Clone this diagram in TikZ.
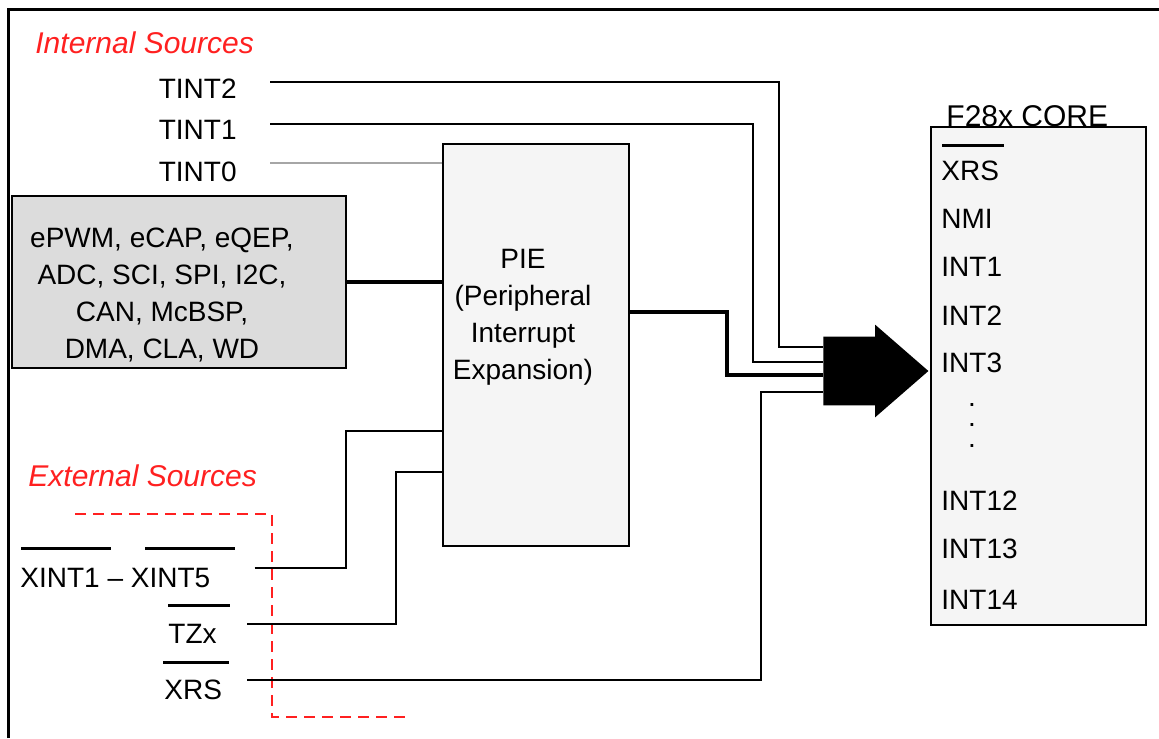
\documentclass[tikz,border=0pt]{standalone}
\usepackage{fontspec}
\setmainfont{Liberation Sans}
\usetikzlibrary{shapes.arrows}
\definecolor{boxgray}{HTML}{DCDCDC}
\definecolor{piegray}{HTML}{F5F5F5}
\definecolor{srcred}{HTML}{FF2020}
\begin{document}
\begin{tikzpicture}[x=0.5pt,y=-0.5pt,
    lbl/.style={inner sep=0pt,font=\fontsize{14}{18.5}\selectfont},
    src/.style={lbl,text=srcred,font=\fontsize{15}{18.5}\selectfont\itshape},
    box/.style={draw,line width=1pt,inner sep=0pt},
    wire/.style={line width=1.1pt},
    bus/.style={line width=2pt},
    bar/.style={line width=1.5pt},
    bigarrow/.style={single arrow,fill=black,inner xsep=0pt,inner ysep=17pt,minimum height=52.5pt,single arrow head extend=6pt,single arrow tip angle=82}
]
\useasboundingbox (0,0) rectangle (1159,738);
\draw[line width=1.5pt] (8,738) -- (8,10) -- (1159,10);

% internal side
\node[src,anchor=west] (intsrc) at (35,43) {Internal Sources};
\node[lbl,anchor=east] (tint2) at (237,89) {TINT2};
\node[lbl,anchor=east] (tint1) at (237,130) {TINT1};
\node[lbl,anchor=east] (tint0) at (237,172) {TINT0};
\node[box,fill=boxgray,minimum width=167pt,minimum height=86pt] (periph) at (179,282) {};
\node[lbl,align=center] (periphtxt) at (162,295) {ePWM, eCAP, eQEP,\\ADC, SCI, SPI, I2C,\\CAN, McBSP,\\DMA, CLA, WD};
\node[box,fill=piegray,minimum width=93pt,minimum height=201pt] (pie) at (536,345) {};
\node[lbl,align=center] (pietxt) at (523,317) {PIE\\(Peripheral\\Interrupt\\Expansion)};

% external side
\node[src,anchor=west] (extsrc) at (28,476) {External Sources};
\node[lbl,anchor=west] (xint) at (20,578) {XINT1 -- XINT5};
\node[lbl,anchor=west] (tzx) at (168,634) {TZx};
\node[lbl,anchor=west] (xrsin) at (164,690) {XRS};
\draw[bar] (21,548) -- (111,548);
\draw[bar] (145,548) -- (235,548);
\draw[bar] (168,605) -- (230,605);
\draw[bar] (163,662) -- (229,662);
\draw[srcred,line width=0.75pt,dash pattern=on 5.5pt off 3.5pt] (75,514) -| (272,717) -- (407,717);

% core
\node[box,fill=piegray,minimum width=107.5pt,minimum height=249pt] (core) at (1038.5,376) {};
\node[src,text=black,font=\fontsize{15}{18.5}\selectfont,anchor=west] (coretitle) at (946,116) {F28x CORE};
\draw[bar] (942,145) -- (1004,145);
\node[lbl,anchor=west] (cxrs) at (941,171) {XRS};
\node[lbl,anchor=west] (cnmi) at (941,219) {NMI};
\node[lbl,anchor=west] (cint1) at (941,267) {INT1};
\node[lbl,anchor=west] (cint2) at (941,316) {INT2};
\node[lbl,anchor=west] (cint3) at (941,363) {INT3};
\node[lbl] (cdota) at (972,405) {.};
\node[lbl] (cdotb) at (972,425) {.};
\node[lbl] (cdotc) at (972,446) {.};
\node[lbl,anchor=west] (cint12) at (941,501) {INT12};
\node[lbl,anchor=west] (cint13) at (941,549) {INT13};
\node[lbl,anchor=west] (cint14) at (941,600) {INT14};
\node[bigarrow,anchor=tail] (intarrow) at (823,371) {};

% wiring
\draw[wire] ([shift={(33,-7)}]tint2.east) -- (779,82) |- (intarrow.tail |- 0,347);
\draw[wire] ([shift={(33,-6)}]tint1.east) -- (753,124) |- (intarrow.tail |- 0,362);
\draw[wire,draw=gray!70] ([shift={(33,-9)}]tint0.east) coordinate (t0) -- (t0 -| pie.west);
\draw[bus] (periph.east) -- (periph.east -| pie.west);
\draw[bus] ([shift={(0,-33)}]pie.east) -- (727,312) |- (intarrow.tail |- 0,375);
\draw[wire] ([shift={(44,-10)}]xint.east) -- (346,568) |- (pie.west |- 0,431);
\draw[wire] ([shift={(30,-10)}]tzx.east) -- (396,624) |- (pie.west |- 0,472);
\draw[wire] ([shift={(25,-10)}]xrsin.east) -- (761,680) |- (intarrow.tail |- 0,392);
\end{tikzpicture}
\end{document}
